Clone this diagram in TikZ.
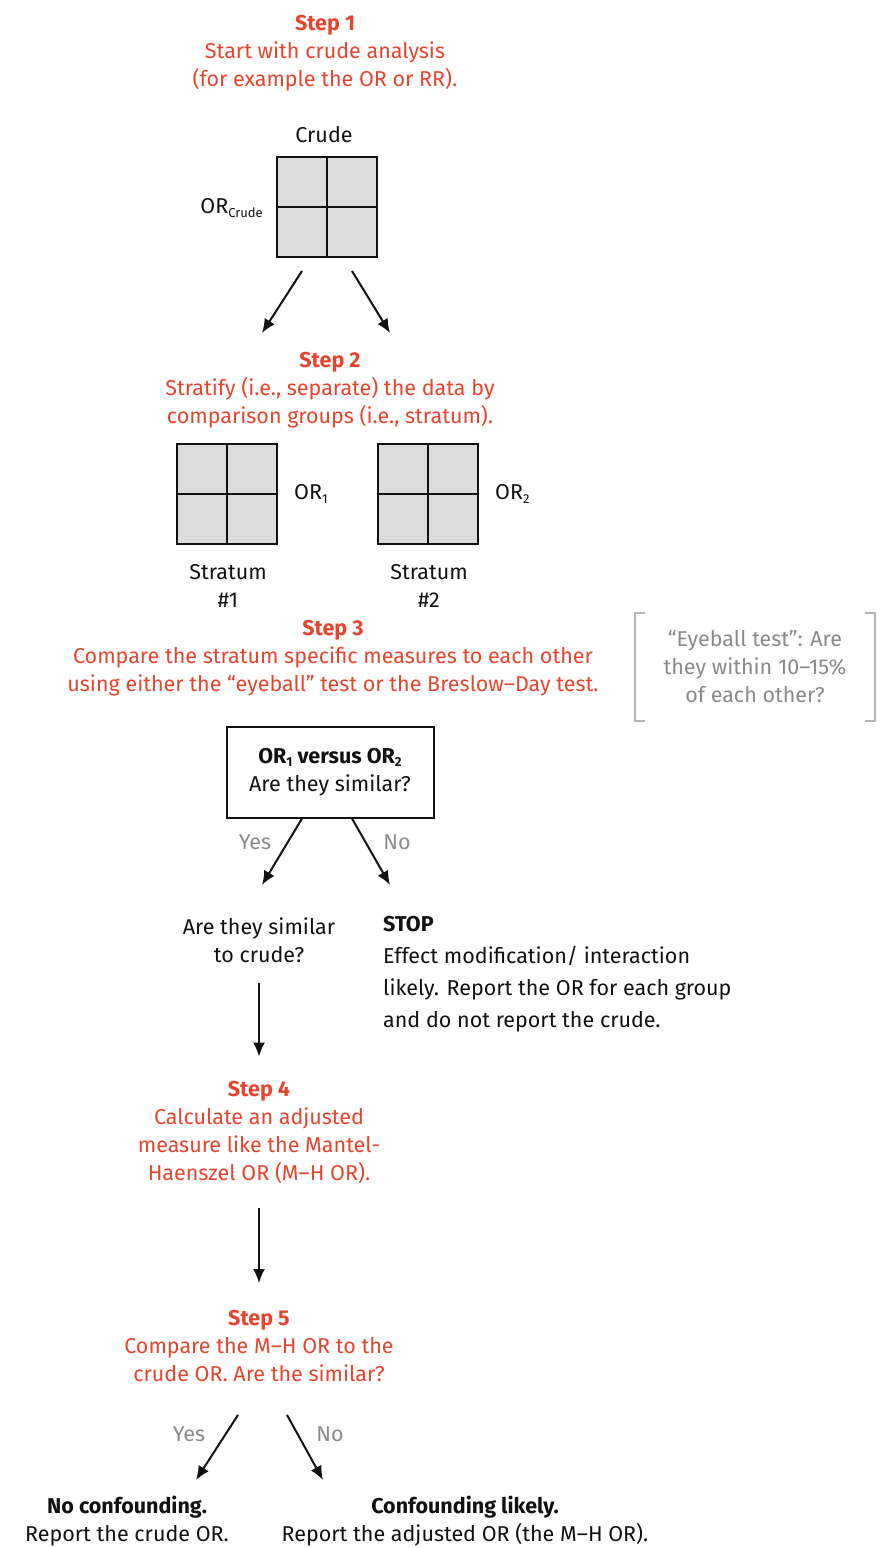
\documentclass[tikz,border=0pt]{standalone}
\usepackage{fontspec}
\setmainfont{Fira Sans}
\usetikzlibrary{arrows.meta,positioning}
\definecolor{ink}{HTML}{111111}
\definecolor{stepred}{HTML}{E5452F}
\definecolor{cellgray}{HTML}{DCDCDC}
\definecolor{softgray}{HTML}{8A8A8A}
\definecolor{bracketgray}{HTML}{B4B4B4}
\newcommand{\lowsub}[1]{\raisebox{-0.3ex}{\fontsize{13}{13}\selectfont #1}}
\tikzset{
  txt/.style={font=\fontsize{21.5}{28}\selectfont, text=ink, align=center, inner sep=0pt},
  steptxt/.style={txt, text=stepred},
  note/.style={txt, text=softgray},
  ctable/.style={draw=ink, line width=2pt, fill=cellgray, minimum size=100pt, inner sep=0pt,
    path picture={\draw[ink, line width=2pt] (path picture bounding box.north) -- (path picture bounding box.south)
      (path picture bounding box.west) -- (path picture bounding box.east);}},
  qbox/.style={txt, draw=ink, line width=2pt, minimum width=207pt, minimum height=91pt},
  bracket/.style={draw=bracketgray, line width=1.5pt},
  arrow/.style={-{Latex[length=14pt,width=12pt]}, line width=2pt, draw=ink}
}
\begin{document}
\begin{tikzpicture}[x=1pt,y=-1pt]
\useasboundingbox (0,0) rectangle (879,1548);
% step 1 and crude table
\node[steptxt] (step1) at (325,53) {\textbf{Step 1}\\Start with crude analysis\\(for example the OR or RR).};
\node[txt] (crudelbl) at (324,135) {Crude};
\node[ctable] (crude) at (327,207) {};
\node[txt, anchor=east] (orcrude) at (263,208) {OR\lowsub{Crude}};
\coordinate (c1) at (262,333);
\coordinate (c2) at (390,333);
\draw[arrow] ([xshift=-25pt,yshift=-13pt]crude.south) -- (c1);
\draw[arrow] ([xshift=25pt,yshift=-13pt]crude.south) -- (c2);
% step 2 and strata
\node[steptxt] (step2) at (330,390) {\textbf{Step 2}\\Stratify (i.e., separate) the data by\\comparison groups (i.e., stratum).};
\node[ctable] (strat1) at (227,494) {};
\node[ctable] (strat2) at (428,494) {};
\node[txt, right=16pt of strat1] (or1) {OR\lowsub{1}};
\node[txt, right=16pt of strat2] (or2) {OR\lowsub{2}};
\node[txt] (lbl1) at (228,586) {Stratum\\\#1};
\node[txt] (lbl2) at (429,586) {Stratum\\\#2};
% step 3
\node[steptxt] (step3) at (333,658) {\textbf{Step 3}\\Compare the stratum specific measures to each other\\using either the “eyeball” test or the Breslow–Day test.};
\node[note, minimum width=240pt, minimum height=108pt] (eye) at (755,667) {“Eyeball test”: Are\\they within 10–15\%\\of each other?};
\draw[bracket] ([xshift=10pt]eye.north west) -- (eye.north west) -- (eye.south west) -- ([xshift=10pt]eye.south west);
\draw[bracket] ([xshift=-10pt]eye.north east) -- (eye.north east) -- (eye.south east) -- ([xshift=-10pt]eye.south east);
\node[qbox] (cmp) at (330,772) {\textbf{OR\lowsub{1} versus OR\lowsub{2}}\\Are they similar?};
\coordinate (q1) at (262,885);
\coordinate (q2) at (390,885);
\draw[arrow] ([xshift=-28pt]cmp.south) -- (q1);
\draw[arrow] ([xshift=22pt]cmp.south) -- (q2);
\node[note] (yes1) at (255,842) {Yes};
\node[note] (no1) at (397,842) {No};
\node[txt] (simcrude) at (259,940) {Are they similar\\to crude?};
\node[txt, font=\fontsize{21.5}{32}\selectfont, align=left, anchor=west] (stop) at (383,974)
  {\textbf{STOP}\\Effect modification/ interaction\\likely. Report the OR for each group\\and do not report the crude.};
% step 4
\node[steptxt] (step4) at (259,1132) {\textbf{Step 4}\\Calculate an adjusted\\measure like the Mantel-\\Haenszel OR (M–H OR).};
\draw[arrow, shorten <=20pt, shorten >=24pt] (simcrude) -- (step4);
% step 5
\node[steptxt] (step5) at (259,1346) {\textbf{Step 5}\\Compare the M–H OR to the\\crude OR. Are the similar?};
\draw[arrow, shorten <=25pt, shorten >=27pt] (step4) -- (step5);
\coordinate (r1) at (196,1480);
\coordinate (r2) at (323,1480);
\draw[arrow] ([xshift=-21pt,yshift=-33pt]step5.south) -- (r1);
\draw[arrow] ([xshift=28pt,yshift=-33pt]step5.south) -- (r2);
\node[note] (yes2) at (189,1434) {Yes};
\node[note] (no2) at (330,1434) {No};
\node[txt] (nocf) at (127,1521) {\textbf{No confounding.}\\Report the crude OR.};
\node[txt] (conf) at (465,1521) {\textbf{Confounding likely.}\\Report the adjusted OR (the M–H OR).};
\end{tikzpicture}
\end{document}
